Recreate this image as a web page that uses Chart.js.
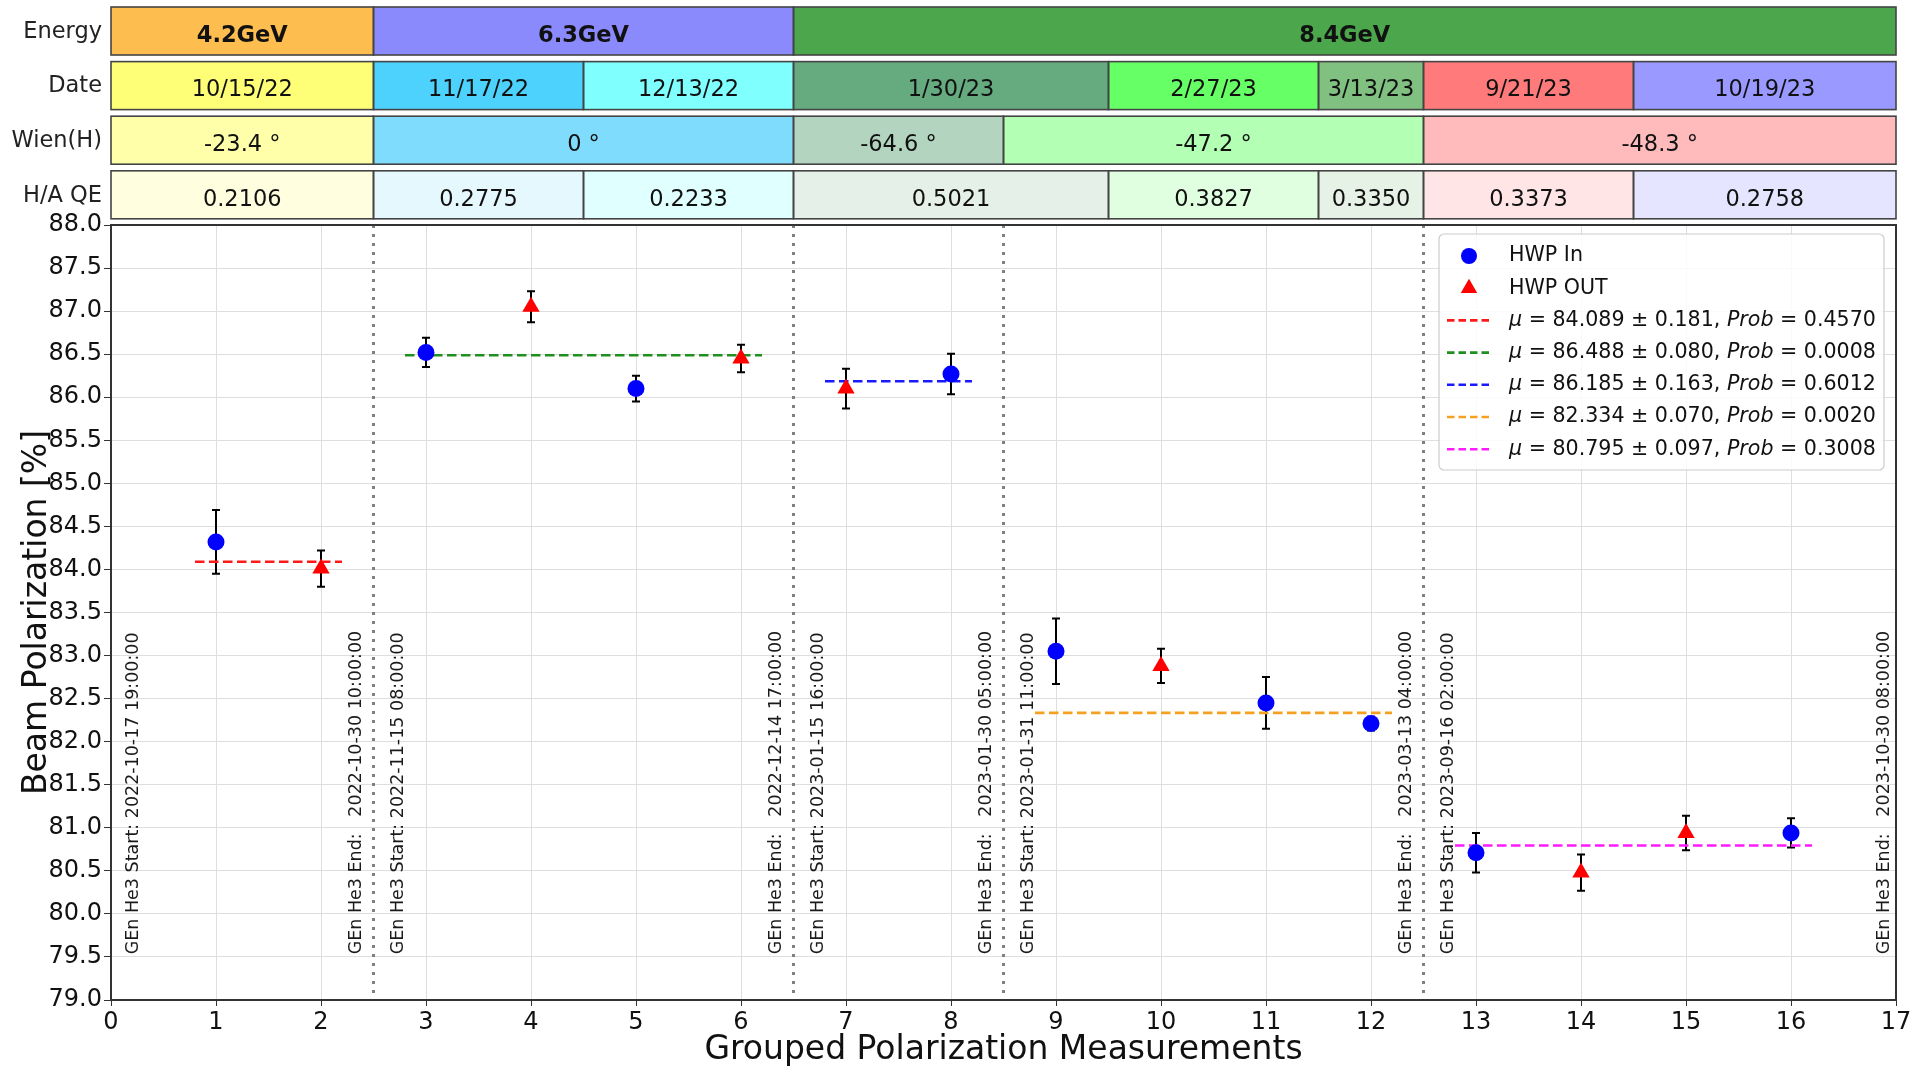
<!DOCTYPE html>
<html><head><meta charset="utf-8">
<script src="https://cdn.jsdelivr.net/npm/chart.js@4/dist/chart.umd.min.js"></script>
<style>html,body{margin:0;padding:0;background:#fff;}</style>
</head><body>
<canvas id="c" width="1915" height="1071"></canvas>
<script>
// ---------- DATA ----------
const hwpInX   = [1, 3, 5, 8, 9, 11, 12, 13, 16];
const hwpInY   = [84.32, 86.52, 86.10, 86.27, 83.05, 82.45, 82.21, 80.71, 80.94];
const hwpInErr = [0.37, 0.17, 0.15, 0.235, 0.38, 0.30, 0.08, 0.23, 0.17];

const hwpOutX   = [2, 4, 6, 7, 10, 14, 15];
const hwpOutY   = [84.01, 87.05, 86.45, 86.10, 82.88, 80.48, 80.94];
const hwpOutErr = [0.21, 0.18, 0.16, 0.23, 0.20, 0.21, 0.20];

const fitMu    = [84.089, 86.488, 86.185, 82.334, 80.795];
const fitErr   = ['0.181', '0.080', '0.163', '0.070', '0.097'];
const fitProb  = ['0.4570', '0.0008', '0.6012', '0.0020', '0.3008'];
const fitFirst = [1, 3, 7, 9, 13];
const fitLast  = [2, 6, 8, 12, 16];
const fitColors = ['#ff1a1a', '#1f8f1f', '#1a1aff', '#f5a020', '#ff1aff'];

const periodStart = [0, 2.5, 6.5, 8.5, 12.5];
const periodEnd   = [2.5, 6.5, 8.5, 12.5, 17];
const startTexts = ['2022-10-17 19:00:00', '2022-11-15 08:00:00', '2023-01-15 16:00:00', '2023-01-31 11:00:00', '2023-09-16 02:00:00'];
const endTexts   = ['2022-10-30 10:00:00', '2022-12-14 17:00:00', '2023-01-30 05:00:00', '2023-03-13 04:00:00', '2023-10-30 08:00:00'];

const rowNames = ['Energy', 'Date', 'Wien(H)', 'H/A QE'];
const energyLabels = ['4.2GeV', '6.3GeV', '8.4GeV'];
const energyFrom = [0, 2.5, 6.5];
const energyTo   = [2.5, 6.5, 17];
const energyColors = ['#fdbd4f', '#8a8afc', '#4ca64c'];

const dateLabels = ['10/15/22', '11/17/22', '12/13/22', '1/30/23', '2/27/23', '3/13/23', '9/21/23', '10/19/23'];
const dateFrom = [0, 2.5, 4.5, 6.5, 9.5, 11.5, 12.5, 14.5];
const dateTo   = [2.5, 4.5, 6.5, 9.5, 11.5, 12.5, 14.5, 17];
const dateColors = ['#ffff77', '#4dd2fd', '#80ffff', '#66aa80', '#66ff66', '#80c080', '#ff7b7b', '#9999ff'];

const wienLabels = ['-23.4 °', '0 °', '-64.6 °', '-47.2 °', '-48.3 °'];
const wienFrom = [0, 2.5, 6.5, 8.5, 12.5];
const wienTo   = [2.5, 6.5, 8.5, 12.5, 17];
const wienColors = ['#ffffaa', '#80dcfc', '#b3d5c0', '#b3ffb3', '#ffbbbb'];

const qeLabels = ['0.2106', '0.2775', '0.2233', '0.5021', '0.3827', '0.3350', '0.3373', '0.2758'];
const qeFrom = dateFrom;
const qeTo   = dateTo;
const qeColors = ['#ffffe0', '#e5f8fe', '#e0ffff', '#e5f0e8', '#e0ffe0', '#e5f2e5', '#ffe5e5', '#e5e5ff'];

const xTicksMin = 0, xTicksMax = 17;
const yTicksMin = 79, yTicksMax = 88, yStep = 0.5;

// ---------- CHART ----------
const FONT = "'DejaVu Sans', sans-serif";

const datasets = [
  { label: 'HWP In', type: 'scatter',
    data: hwpInX.map((x, i) => ({ x, y: hwpInY[i] })),
    pointStyle: 'circle', pointRadius: 8.5, backgroundColor: '#0000ff', borderColor: '#0000ff', borderWidth: 0, order: 0 },
  { label: 'HWP OUT', type: 'scatter',
    data: hwpOutX.map((x, i) => ({ x, y: hwpOutY[i] })),
    pointStyle: 'triangle', pointRadius: 10, backgroundColor: '#ff0000', borderColor: '#ff0000', borderWidth: 0, order: 1 }
];
fitMu.forEach((mu, i) => {
  datasets.push({
    label: 'fit' + i, type: 'line',
    data: [{ x: fitFirst[i] - 0.2, y: mu }, { x: fitLast[i] + 0.2, y: mu }],
    borderColor: fitColors[i], borderWidth: 2.6, borderDash: [9.5, 4.5],
    pointRadius: 0, fill: false, tension: 0, order: 2
  });
});

function drawErrorBars(chart, xs, ys, es) {
  const ctx = chart.ctx, sx = chart.scales.x, sy = chart.scales.y;
  ctx.save();
  ctx.strokeStyle = '#000'; ctx.lineWidth = 2;
  xs.forEach((x, i) => {
    const px = sx.getPixelForValue(x);
    const top = sy.getPixelForValue(ys[i] + es[i]);
    const bot = sy.getPixelForValue(ys[i] - es[i]);
    ctx.beginPath();
    ctx.moveTo(px, top); ctx.lineTo(px, bot);
    ctx.moveTo(px - 4, top); ctx.lineTo(px + 4, top);
    ctx.moveTo(px - 4, bot); ctx.lineTo(px + 4, bot);
    ctx.stroke();
  });
  ctx.restore();
}

const backgroundPlugin = {
  id: 'backgroundStuff',
  beforeDatasetsDraw(chart) {
    const ctx = chart.ctx, sx = chart.scales.x, sy = chart.scales.y, ca = chart.chartArea;
    // dotted separators
    ctx.save();
    ctx.strokeStyle = '#808080'; ctx.lineWidth = 3; ctx.setLineDash([3, 6]);
    periodEnd.forEach(b => {
      if (b >= xTicksMax) return;
      const px = sx.getPixelForValue(b);
      ctx.beginPath(); ctx.moveTo(px, ca.top); ctx.lineTo(px, ca.bottom); ctx.stroke();
    });
    ctx.restore();
    // vertical labels
    ctx.save();
    ctx.fillStyle = '#1a1a1a';
    ctx.font = '17.5px ' + FONT;
    ctx.textAlign = 'left'; ctx.textBaseline = 'middle';
    const yb = sy.getPixelForValue(79.53);
    const put = (xv, txt) => {
      ctx.save();
      ctx.translate(sx.getPixelForValue(xv), yb);
      ctx.rotate(-Math.PI / 2);
      ctx.fillText(txt, 0, 0);
      ctx.restore();
    };
    periodStart.forEach((s, i) => put(s + (i === 0 ? 0.21 : 0.24), 'GEn He3 Start: ' + startTexts[i]));
    periodEnd.forEach((e, i) => put(e - (e >= xTicksMax ? 0.11 : 0.16), 'GEn He3 End:   ' + endTexts[i]));
    ctx.restore();
    // error bars
    drawErrorBars(chart, hwpInX, hwpInY, hwpInErr);
    drawErrorBars(chart, hwpOutX, hwpOutY, hwpOutErr);
  }
};

function drawRich(ctx, parts, x, y, size) {
  let cx = x;
  parts.forEach(p => {
    ctx.font = (p.i ? 'italic ' : '') + size + 'px ' + FONT;
    ctx.fillText(p.t, cx, y);
    cx += ctx.measureText(p.t).width;
  });
}

const overlayPlugin = {
  id: 'overlayStuff',
  afterDraw(chart) {
    const ctx = chart.ctx, sx = chart.scales.x, ca = chart.chartArea;
    // frame
    ctx.save();
    ctx.strokeStyle = '#333'; ctx.lineWidth = 2;
    ctx.strokeRect(ca.left, ca.top, ca.right - ca.left, ca.bottom - ca.top);
    ctx.restore();

    // table rows
    const rows = [
      { labels: energyLabels, from: energyFrom, to: energyTo, colors: energyColors, bold: true },
      { labels: dateLabels, from: dateFrom, to: dateTo, colors: dateColors },
      { labels: wienLabels, from: wienFrom, to: wienTo, colors: wienColors },
      { labels: qeLabels, from: qeFrom, to: qeTo, colors: qeColors }
    ];
    const rowH = 48, rowStep = 54.6, top0 = 7;
    ctx.save();
    rows.forEach((r, ri) => {
      const y0 = top0 + ri * rowStep;
      r.labels.forEach((lab, k) => {
        const x0 = sx.getPixelForValue(r.from[k]);
        const x1 = sx.getPixelForValue(r.to[k]);
        ctx.fillStyle = r.colors[k];
        ctx.fillRect(x0, y0, x1 - x0, rowH);
      });
      r.labels.forEach((lab, k) => {
        const x0 = sx.getPixelForValue(r.from[k]);
        const x1 = sx.getPixelForValue(r.to[k]);
        ctx.strokeStyle = '#444'; ctx.lineWidth = 1.6;
        ctx.strokeRect(x0, y0, x1 - x0, rowH);
        ctx.fillStyle = '#111';
        ctx.font = (r.bold ? 'bold ' : '') + '22.5px ' + FONT;
        ctx.textAlign = 'center'; ctx.textBaseline = 'middle';
        ctx.fillText(lab, (x0 + x1) / 2, y0 + rowH / 2 + 5);
      });
      ctx.fillStyle = '#222';
      ctx.font = '22.5px ' + FONT;
      ctx.textAlign = 'right'; ctx.textBaseline = 'middle';
      ctx.fillText(rowNames[ri], ca.left - 9, y0 + rowH / 2 + 1);
    });
    ctx.restore();

    // legend
    const lw = 445, lh = 236;
    const lx = ca.right - 12 - lw, ly = ca.top + 9;
    ctx.save();
    ctx.fillStyle = 'rgba(255,255,255,0.85)';
    ctx.strokeStyle = '#cccccc'; ctx.lineWidth = 1.2;
    ctx.beginPath();
    if (ctx.roundRect) ctx.roundRect(lx, ly, lw, lh, 5); else ctx.rect(lx, ly, lw, lh);
    ctx.fill(); ctx.stroke();
    const hx = lx + 30, tx = lx + 70, rowY = k => ly + 22 + k * 32.2;
    const fs = 20.6;
    ctx.textAlign = 'left'; ctx.textBaseline = 'middle'; ctx.fillStyle = '#111';
    // HWP In
    ctx.fillStyle = '#0000ff';
    ctx.beginPath(); ctx.arc(hx, rowY(0), 8, 0, Math.PI * 2); ctx.fill();
    ctx.fillStyle = '#111'; ctx.font = fs + 'px ' + FONT; ctx.fillText('HWP In', tx, rowY(0));
    // HWP OUT
    ctx.fillStyle = '#ff0000';
    const r = 9.5, cy = rowY(1);
    ctx.beginPath();
    ctx.moveTo(hx, cy - r);
    ctx.lineTo(hx + r * Math.sin(2 * Math.PI / 3), cy - r * Math.cos(2 * Math.PI / 3));
    ctx.lineTo(hx + r * Math.sin(4 * Math.PI / 3), cy - r * Math.cos(4 * Math.PI / 3));
    ctx.closePath(); ctx.fill();
    ctx.fillStyle = '#111'; ctx.font = fs + 'px ' + FONT; ctx.fillText('HWP OUT', tx, rowY(1));
    // fits
    fitMu.forEach((mu, i) => {
      const y = rowY(2 + i);
      ctx.save();
      ctx.strokeStyle = fitColors[i]; ctx.lineWidth = 2.6; ctx.setLineDash([7.5, 4]);
      ctx.beginPath(); ctx.moveTo(lx + 8, y); ctx.lineTo(lx + 53, y); ctx.stroke();
      ctx.restore();
      ctx.fillStyle = '#111';
      drawRich(ctx, [
        { t: 'μ', i: true },
        { t: ' = ' + mu.toFixed(3) + ' ± ' + fitErr[i] + ', ' },
        { t: 'Prob', i: true },
        { t: ' = ' + fitProb[i] }
      ], tx, y, fs);
    });
    ctx.restore();
  }
};

new Chart(document.getElementById('c'), {
  type: 'scatter',
  data: { datasets },
  options: {
    responsive: false, devicePixelRatio: 1, animation: false,
    layout: { padding: { top: 225, right: 19, left: 0, bottom: 0 } },
    plugins: { legend: { display: false }, tooltip: { enabled: false } },
    scales: {
      x: {
        type: 'linear', min: xTicksMin, max: xTicksMax,
        ticks: { stepSize: 1, color: '#111', font: { family: FONT, size: 24 }, padding: 2, maxRotation: 0 },
        grid: { color: '#dedede', lineWidth: 1, tickColor: '#333', tickLength: 6 },
        border: { display: true, color: '#333', width: 2 },
        title: { display: true, text: 'Grouped Polarization Measurements', color: '#111',
                 font: { family: FONT, size: 33 }, padding: { top: 0, bottom: 1 } },
        afterFit(s) { s.height = 71; }
      },
      y: {
        type: 'linear', min: yTicksMin, max: yTicksMax,
        ticks: { stepSize: yStep, color: '#111', font: { family: FONT, size: 24 }, padding: 2,
                 callback: v => Number(v).toFixed(1) },
        grid: { color: '#dedede', lineWidth: 1, tickColor: '#333', tickLength: 7 },
        border: { display: true, color: '#333', width: 2 },
        title: { display: true, text: 'Beam Polarization [%]', color: '#111',
                 font: { family: FONT, size: 33 }, padding: { top: 18, bottom: 0 } },
        afterFit(s) { s.width = 111; }
      }
    }
  },
  plugins: [backgroundPlugin, overlayPlugin]
});
</script>
</body></html>
